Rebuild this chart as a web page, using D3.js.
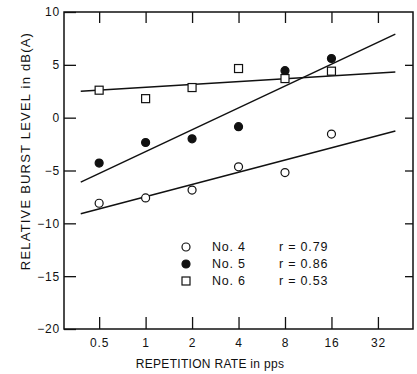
<!DOCTYPE html>
<html><head><meta charset="utf-8">
<script src="https://cdn.jsdelivr.net/npm/d3@7"></script>
<style>
body{margin:0;background:#fff;}
svg text{font-family:"Liberation Sans",Arial,sans-serif;fill:#111;}
</style></head>
<body><svg id="c" width="417" height="374"></svg>
<script>
const rates = [0.5, 1, 2, 4, 8, 16];
const no4 = [-8.1, -7.6, -6.85, -4.65, -5.2, -1.55];
const no5 = [-4.3, -2.35, -2.0, -0.85, 4.45, 5.6];
const no6 = [2.6, 1.8, 2.85, 4.65, 3.7, 4.4];
const fitX = [0.38, 41.5];
const fit4 = [-9.1, -1.27];
const fit5 = [-6.1, 7.9];
const fit6 = [2.5, 4.33];
const xTicks = [0.5, 1, 2, 4, 8, 16, 32];
const xTickLabels = ["0.5", "1", "2", "4", "8", "16", "32"];
const yTicks = [10, 5, 0, -5, -10, -15, -20];
const legendNames = ["No. 4", "No. 5", "No. 6"];
const legendR = ["r = 0.79", "r = 0.86", "r = 0.53"];

const svg = d3.select("#c");
const L = 64, R = 413, T = 12, B = 329;
const x = d3.scaleLog().base(2).domain([0.296, 54]).range([L, R]);
const y = d3.scaleLinear().domain([-20, 10]).range([B, T]);

// frame
svg.append("rect").attr("x", L).attr("y", T).attr("width", R - L).attr("height", B - T)
  .attr("fill", "none").attr("stroke", "#111").attr("stroke-width", 1.5);

// axes
const gBottom = svg.append("g").attr("transform", `translate(0,${B})`)
  .call(d3.axisBottom(x).tickValues(xTicks).tickFormat((d, i) => xTickLabels[i]).tickSizeInner(-12).tickSizeOuter(0).tickPadding(9));
const gTop = svg.append("g").attr("transform", `translate(0,${T})`)
  .call(d3.axisTop(x).tickValues(xTicks).tickFormat("").tickSizeInner(-11).tickSizeOuter(0));
const gLeft = svg.append("g").attr("transform", `translate(${L},0)`)
  .call(d3.axisLeft(y).tickValues(yTicks).tickSizeInner(-12).tickSizeOuter(0).tickPadding(4));
const gRight = svg.append("g").attr("transform", `translate(${R},0)`)
  .call(d3.axisRight(y).tickValues(yTicks.filter(v => v > -20 && v < 10)).tickFormat("").tickSizeInner(-8).tickSizeOuter(0));
[gBottom, gTop, gLeft, gRight].forEach(g => {
  g.select(".domain").remove();
  g.selectAll(".tick line").attr("stroke", "#111").attr("stroke-width", 1.3);
  g.selectAll("text").attr("font-size", 12).attr("fill", "#111").style("letter-spacing", "0.8px");
});
gLeft.selectAll("text").text(d => d < 0 ? "\u2212" + Math.abs(d) : d);

// fit lines
const line = d3.line().x(d => x(d[0])).y(d => y(d[1]));
[fit4, fit5, fit6].forEach(f => {
  svg.append("path").attr("d", line(fitX.map((v, i) => [v, f[i]])))
    .attr("fill", "none").attr("stroke", "#111").attr("stroke-width", 1.5);
});

// markers
function circle(g, cx, cy, filled) {
  g.append("circle").attr("cx", cx).attr("cy", cy).attr("r", 4)
    .attr("fill", filled ? "#111" : "#fff").attr("stroke", "#111").attr("stroke-width", 1.2);
}
function square(g, cx, cy) {
  g.append("rect").attr("x", cx - 4).attr("y", cy - 4).attr("width", 8).attr("height", 8)
    .attr("fill", "#fff").attr("stroke", "#111").attr("stroke-width", 1.2);
}
const pts = svg.append("g");
rates.forEach((r, i) => circle(pts, x(r), y(no4[i]), false));
rates.forEach((r, i) => circle(pts, x(r), y(no5[i]), true));
rates.forEach((r, i) => square(pts, x(r), y(no6[i])));

// legend
const lg = svg.append("g");
const ly = [247, 264, 281];
legendNames.forEach((n, i) => {
  if (i === 0) circle(lg, 186, ly[i], false);
  if (i === 1) circle(lg, 186, ly[i], true);
  if (i === 2) square(lg, 186, ly[i]);
  lg.append("text").attr("x", 212).attr("y", ly[i]).attr("dy", "0.35em").attr("font-size", 12.5)
    .style("letter-spacing", "0.8px").text(n);
  lg.append("text").attr("x", 279).attr("y", ly[i]).attr("dy", "0.35em").attr("font-size", 12.5)
    .style("letter-spacing", "0.8px").text(legendR[i]);
});

// axis titles
svg.append("text").attr("x", 210).attr("y", 364).attr("dy", "0.35em").attr("text-anchor", "middle")
  .attr("font-size", 12).style("letter-spacing", "0.3px").text("REPETITION RATE in pps");
svg.append("text").attr("transform", "translate(25,151) rotate(-90)").attr("dy", "0.35em")
  .attr("text-anchor", "middle").attr("font-size", 13).style("letter-spacing", "1.2px")
  .text("RELATIVE BURST LEVEL in dB(A)");
</script></body></html>
